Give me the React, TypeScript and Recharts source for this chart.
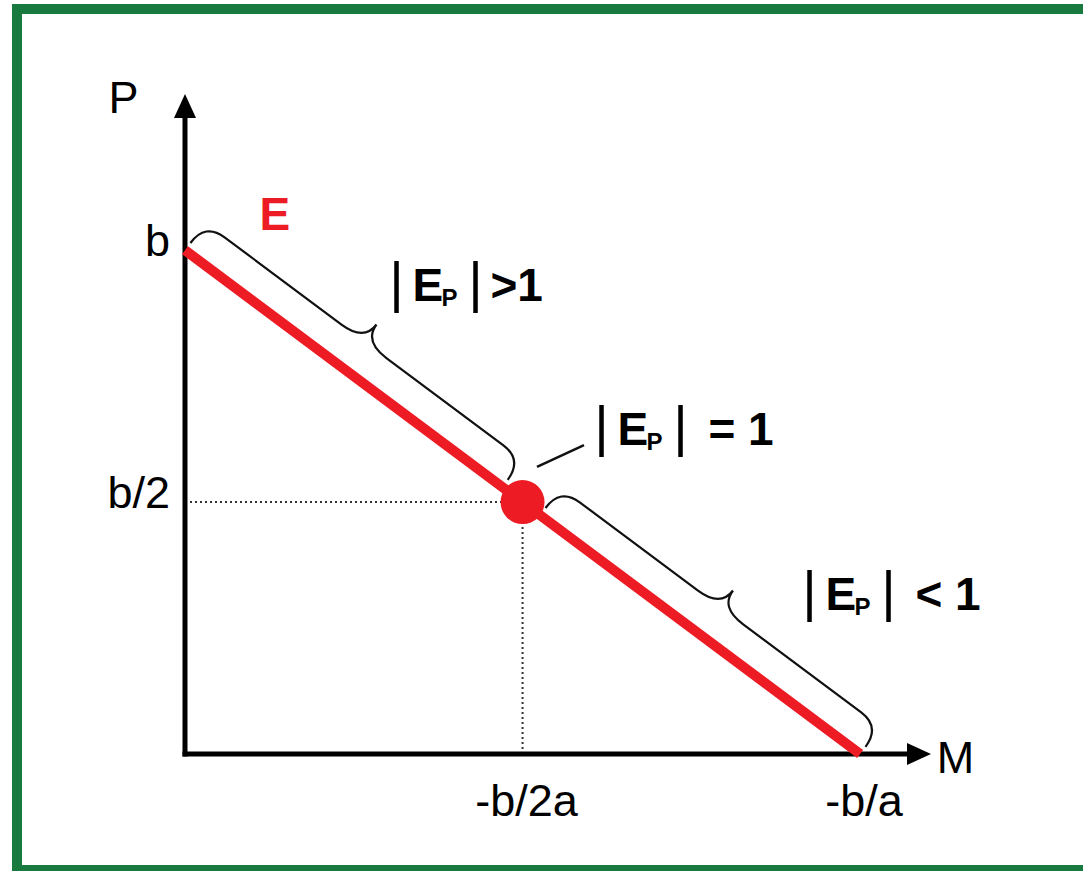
import { ComposedChart, Line, ReferenceLine, XAxis, YAxis } from 'recharts';

// demand line P(M), M in units of -b/a and P in units of b
const QUANTITY = [0, 0.5, 1];
const PRICE = [1, 0.5, 0];
const UNIT_INDEX = 1; // |Ep| = 1 at the midpoint

const X_TICKS = [0.5, 1];
const X_TICK_LABELS = ['-b/2a', '-b/a'];
const Y_TICKS = [0.5, 1];
const Y_TICK_LABELS = ['b/2', 'b'];

// stretches of the line marked with a brace
const BRACE_FROM = [
  { m: 0, p: 1 },
  { m: 0.526, p: 0.474 },
];
const BRACE_TO = [
  { m: 0.47, p: 0.53 },
  { m: 1, p: 0 },
];

// elasticity labels: what follows |Ep|, and where
const ELASTICITY_TEXT = ['>1', '= 1', '< 1'];
const ELASTICITY_M = [0.3133, 0.6169, 0.925];
const ELASTICITY_P = [0.8992, 0.6133, 0.2858];
const REST_OFFSET = [94, 107, 106];

const LEADER = [
  { m: 0.5214, p: 0.5697 },
  { m: 0.591, p: 0.6133 },
];

const FONT = '"Liberation Sans", Arial, Helvetica, sans-serif';
const RED = '#ed1c24';
const GREEN = '#187a3e';

const lineData = QUANTITY.map((m, i) => ({ m, p: PRICE[i] }));

function bracePath(x1: number, y1: number, x2: number, y2: number) {
  const len = Math.hypot(x2 - x1, y2 - y1) || 1;
  const ux = (x2 - x1) / len;
  const uy = (y2 - y1) / len;
  const nx = uy;
  const ny = -ux;
  const e = 9;
  const h = 34;
  const w = 55;
  const r = 24;
  const s = 28;
  const mx = (x1 + x2) / 2;
  const my = (y1 + y2) / 2;
  const pt = (bx: number, by: number, a: number, b: number) =>
    `${(bx + ux * a + nx * b).toFixed(1)},${(by + uy * a + ny * b).toFixed(1)}`;
  return [
    `M${pt(x1, y1, 0, e)}`,
    `Q${pt(x1, y1, 0, h)} ${pt(x1, y1, r, h)}`,
    `L${pt(mx, my, -s, h)}`,
    `Q${pt(mx, my, 0, h)} ${pt(mx, my, 0, w)}`,
    `M${pt(x2, y2, 0, e)}`,
    `Q${pt(x2, y2, 0, h)} ${pt(x2, y2, -r, h)}`,
    `L${pt(mx, my, s, h)}`,
    `Q${pt(mx, my, 0, h)} ${pt(mx, my, 0, w)}`,
  ].join(' ');
}

function arrowShape(props: any) {
  const { x1, y1, x2, y2 } = props;
  const len = Math.hypot(x2 - x1, y2 - y1) || 1;
  const ux = (x2 - x1) / len;
  const uy = (y2 - y1) / len;
  const head = 24;
  const half = 11;
  const bx = x2 - ux * head;
  const by = y2 - uy * head;
  const points = `${x2},${y2} ${bx - uy * half},${by + ux * half} ${bx + uy * half},${by - ux * half}`;
  return (
    <g>
      <line x1={x1} y1={y1} x2={bx + ux * 2} y2={by + uy * 2} stroke="#000" strokeWidth={5} strokeLinecap="square" />
      <polygon points={points} fill="#000" />
    </g>
  );
}

function anchor(key: string, m: number, p: number, render: (x: number, y: number) => any) {
  return (
    <ReferenceLine
      key={key}
      segment={[
        { x: m, y: p },
        { x: m, y: p },
      ]}
      ifOverflow="visible"
      shape={(s: any) => render(s.x1, s.y1)}
    />
  );
}

function renderElasticity(x: number, y: number, rest: string, restOffset: number) {
  return (
    <g fontFamily={FONT} fill="#000">
      <text x={x} y={y} fontSize={56} textAnchor="middle">
        |
      </text>
      <text x={x + 16} y={y} fontSize={46} fontWeight="bold">
        E
      </text>
      <text x={x + 45} y={y + 5} fontSize={24} fontWeight="bold">
        P
      </text>
      <text x={x + 79} y={y} fontSize={56} textAnchor="middle">
        |
      </text>
      <text x={x + restOffset} y={y} fontSize={46} fontWeight="bold">
        {rest}
      </text>
    </g>
  );
}

function XTick(props: any) {
  const { x, y, payload } = props;
  const label = X_TICK_LABELS[X_TICKS.indexOf(payload.value)];
  return (
    <text x={x + 4} y={y} dy="0.71em" textAnchor="middle" fontSize={45} fontFamily={FONT} fill="#000">
      {label}
    </text>
  );
}

function YTick(props: any) {
  const { x, y, payload } = props;
  const label = Y_TICK_LABELS[Y_TICKS.indexOf(payload.value)];
  return (
    <text x={x} y={y} dy={6} textAnchor="end" fontSize={45} fontFamily={FONT} fill="#000">
      {label}
    </text>
  );
}

function UnitDot(props: any) {
  const { cx, cy, index } = props;
  if (index !== UNIT_INDEX) return <g key={`dot-${index}`} />;
  return <circle key={`dot-${index}`} cx={cx} cy={cy} r={22} fill={RED} />;
}

export default function App() {
  return (
    <div
      style={{
        position: 'absolute',
        left: 0,
        top: 0,
        width: 1083,
        height: 871,
        overflow: 'hidden',
        background: '#fff',
      }}
    >
      <div
        style={{
          position: 'absolute',
          left: 12,
          top: 4,
          width: 1090,
          height: 871,
          border: `10px solid ${GREEN}`,
          boxSizing: 'border-box',
        }}
      />
      <div style={{ position: 'absolute', left: 0, top: 0 }}>
        <ComposedChart
          width={1083}
          height={871}
          data={lineData}
          margin={{ top: 94, right: 152, bottom: 0, left: 0 }}
        >
          <XAxis
            type="number"
            dataKey="m"
            domain={[0, 1.105]}
            ticks={X_TICKS}
            axisLine={false}
            tickLine={false}
            tickSize={0}
            tickMargin={30}
            height={117}
            tick={<XTick />}
          />
          <YAxis
            type="number"
            dataKey="p"
            domain={[0, 1.31]}
            ticks={Y_TICKS}
            axisLine={false}
            tickLine={false}
            tickSize={0}
            tickMargin={15}
            width={185}
            tick={<YTick />}
          />

          {/* dotted guides to the unit-elastic point */}
          <ReferenceLine
            segment={[
              { x: QUANTITY[0], y: PRICE[UNIT_INDEX] },
              { x: QUANTITY[UNIT_INDEX], y: PRICE[UNIT_INDEX] },
            ]}
            stroke="#333"
            strokeWidth={2}
            strokeDasharray="2 3"
          />
          <ReferenceLine
            segment={[
              { x: QUANTITY[UNIT_INDEX], y: 0 },
              { x: QUANTITY[UNIT_INDEX], y: PRICE[UNIT_INDEX] },
            ]}
            stroke="#333"
            strokeWidth={2}
            strokeDasharray="2 3"
          />

          {/* axes with arrow heads */}
          <ReferenceLine
            segment={[
              { x: 0, y: 0 },
              { x: 1.105, y: 0 },
            ]}
            shape={arrowShape}
          />
          <ReferenceLine
            segment={[
              { x: 0, y: 0 },
              { x: 0, y: 1.31 },
            ]}
            shape={arrowShape}
          />

          {BRACE_FROM.map((from, i) => (
            <ReferenceLine
              key={`brace-${i}`}
              segment={[
                { x: from.m, y: from.p },
                { x: BRACE_TO[i].m, y: BRACE_TO[i].p },
              ]}
              ifOverflow="visible"
              shape={(s: any) => (
                <path d={bracePath(s.x1, s.y1, s.x2, s.y2)} fill="none" stroke="#111" strokeWidth={2.2} />
              )}
            />
          ))}

          <ReferenceLine
            segment={[
              { x: LEADER[0].m, y: LEADER[0].p },
              { x: LEADER[1].m, y: LEADER[1].p },
            ]}
            stroke="#111"
            strokeWidth={2.5}
          />

          <Line
            type="linear"
            dataKey="p"
            stroke={RED}
            strokeWidth={10}
            dot={<UnitDot />}
            activeDot={false}
            isAnimationActive={false}
          />

          {ELASTICITY_TEXT.map((rest, i) =>
            anchor(`ep-${i}`, ELASTICITY_M[i], ELASTICITY_P[i], (x, y) =>
              renderElasticity(x, y, rest, REST_OFFSET[i]),
            ),
          )}

          {anchor('label-e', 0.1105, 1.04, (x, y) => (
            <text x={x} y={y} fontSize={46} fontWeight="bold" fontFamily={FONT} fill={RED}>
              E
            </text>
          ))}
          {anchor('label-p', -0.1133, 1.2723, (x, y) => (
            <text x={x} y={y} fontSize={45} fontFamily={FONT} fill="#000">
              P
            </text>
          ))}
          {anchor('label-m', 1.1135, -0.0377, (x, y) => (
            <text x={x} y={y} fontSize={45} fontFamily={FONT} fill="#000">
              M
            </text>
          ))}
        </ComposedChart>
      </div>
    </div>
  );
}
